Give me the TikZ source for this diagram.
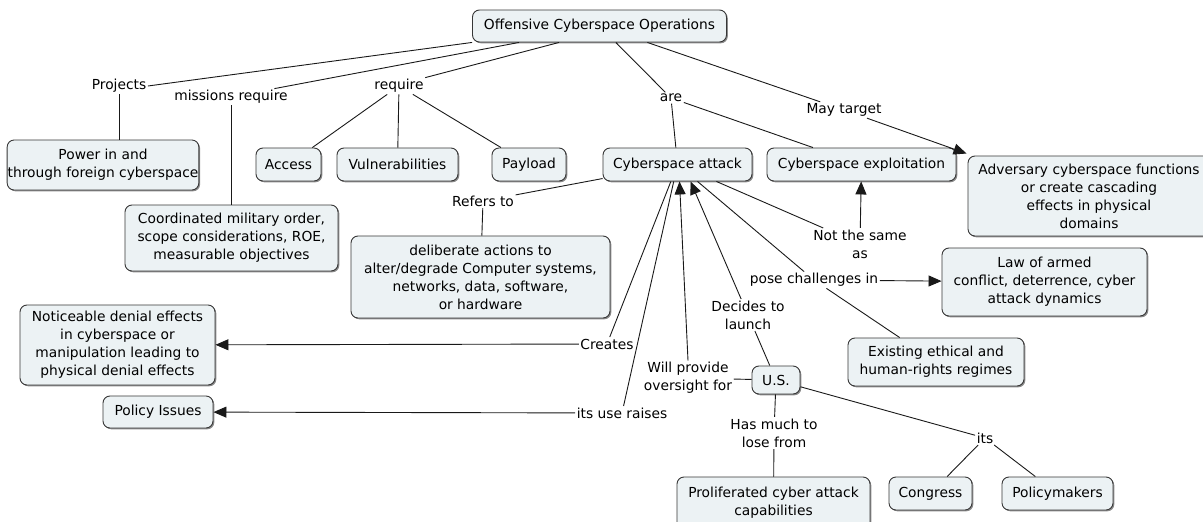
\documentclass[tikz,border=0pt]{standalone}
\usepackage{fontspec}
\setmainfont{DejaVu Sans}
\usetikzlibrary{arrows.meta,shadows,calc}
\definecolor{boxfill}{RGB}{236,242,244}
\definecolor{boxline}{RGB}{55,55,55}
\definecolor{linkline}{RGB}{25,25,25}
\tikzset{
  concept/.style={draw=boxline, fill=boxfill, line width=0.9pt, rounded corners=7pt,
    align=center, inner sep=3pt,
    drop shadow={shadow xshift=1.3pt, shadow yshift=-1.3pt, fill=black!45, opacity=1}},
  phrase/.style={align=center, inner sep=1.5pt},
  link/.style={draw=linkline, line width=0.9pt},
  linkarrow/.style={link, -{Triangle[length=13pt,width=11pt]}}
}
\begin{document}
\begin{tikzpicture}[x=1pt, y=-1pt,
  every node/.style={font=\fontsize{13.8pt}{18pt}\selectfont, text=black}]
\useasboundingbox (0,0) rectangle (1203,522);

% concepts
\node[concept, minimum width=254pt, minimum height=32pt] (oco) at (599.5,26) {Offensive Cyberspace Operations};
\node[concept, minimum width=188pt, minimum height=50pt, inner xsep=0.5pt] (power) at (103,165) {Power in and\\through foreign cyberspace};
\node[concept, minimum width=213pt, minimum height=66pt] (coord) at (231.5,238) {Coordinated military order,\\scope considerations, ROE,\\measurable objectives};
\node[concept, minimum width=65pt, minimum height=33pt] (acc) at (288.5,164.5) {Access};
\node[concept, minimum width=121pt, minimum height=33pt] (vul) at (397.5,164.5) {Vulnerabilities};
\node[concept, minimum width=74pt, minimum height=33pt] (pay) at (529,164.5) {Payload};
\node[concept, minimum width=149pt, minimum height=33pt] (att) at (677.5,164.5) {Cyberspace attack};
\node[concept, minimum width=189pt, minimum height=33pt] (expl) at (861.5,164.5) {Cyberspace exploitation};
\node[concept, minimum width=242pt, minimum height=80pt] (adv) at (1089,196) {Adversary cyberspace functions\\or create cascading\\effects in physical\\domains};
\node[concept, minimum width=259pt, minimum height=82pt] (delib) at (480.5,277) {deliberate actions to\\alter/degrade Computer systems,\\networks, data, software,\\or hardware};
\node[concept, minimum width=205pt, minimum height=68pt] (law) at (1044.5,282) {Law of armed\\conflict, deterrence, cyber\\attack dynamics};
\node[concept, minimum width=195pt, minimum height=80pt] (notic) at (117.5,345) {Noticeable denial effects\\in cyberspace or\\manipulation leading to\\physical denial effects};
\node[concept, minimum width=110pt, minimum height=32pt] (policy) at (158,412) {Policy Issues};
\node[concept, minimum width=176pt, minimum height=48pt] (exist) at (936,362) {Existing ethical and\\human-rights regimes};
\node[concept, minimum width=48pt, minimum height=28pt] (us) at (776,380) {U.S.};
\node[concept, minimum width=193pt, minimum height=52pt] (prolif) at (773.5,503) {Proliferated cyber attack\\capabilities};
\node[concept, minimum width=83pt, minimum height=33pt] (cong) at (930.5,493.5) {Congress};
\node[concept, minimum width=111pt, minimum height=33pt] (polm) at (1057.5,493.5) {Policymakers};

% linking phrases
\node[phrase] (proj) at (119,86) {Projects};
\node[phrase] (mreq) at (231,97) {missions require};
\node[phrase] (req) at (399,86) {require};
\node[phrase] (are) at (671,98) {are};
\node[phrase] (may) at (844,110) {May target};
\node[phrase] (ref) at (483,201) {Refers to};
\node[phrase] (nts) at (860,244) {Not the same\\as};
\node[phrase] (pose) at (814,280) {pose challenges in};
\node[phrase] (dec) at (748,315) {Decides to\\launch};
\node[phrase] (cre) at (607,344) {Creates};
\node[phrase] (will) at (688,378) {Will provide\\oversight for};
\node[phrase] (use) at (622,413) {its use raises};
\node[phrase] (has) at (774,433) {Has much to\\lose from};
\node[phrase] (its) at (985,438) {its};

% connectors
\draw[link] (oco.south west) -- (proj.east);
\draw[link] (proj.south) -- (proj.south |- power.north);
\draw[link] ([xshift=47pt]oco.south west) -- ([xshift=-15pt]mreq.north east);
\draw[link] (mreq.south) -- (mreq.south |- coord.north);
\draw[link] ([xshift=87pt]oco.south west) -- (req.north east);
\draw[link] (req) -- (acc);
\draw[link] (req) -- (vul);
\draw[link] (req) -- (pay);
\draw[link] (oco) -- (are);
\draw[link] (are) -- (att);
\draw[link] (are) -- (expl);
\draw[link] (oco) -- (may);
\draw[linkarrow] (may) -- ([shift={(-1pt,2pt)}]adv.north west);
\draw[link] (att) -- (ref);
\draw[link] (ref) -- (delib);
\draw[link] (att) -- (nts);
\draw[linkarrow] (nts) -- (expl);
\draw[link] (att) -- (pose);
\draw[linkarrow] (pose) -- (law);
\draw[link] (pose) -- (exist);
\draw[link] (us) -- (dec);
\draw[linkarrow] (dec) -- ([xshift=13pt]att.south);
\draw[link] (us) -- (will);
\draw[linkarrow] (will.north) -- ([xshift=2pt]att.south);
\draw[link] (att) -- (cre);
\draw[linkarrow] (cre) -- (notic);
\draw[link] (att) -- (use);
\draw[linkarrow] (use) -- (policy);
\draw[link] (us) -- (has);
\draw[link] (has) -- (prolif);
\draw[link] (us) -- (its);
\draw[link] (its) -- (cong);
\draw[link] (its) -- (polm);
\end{tikzpicture}
\end{document}
